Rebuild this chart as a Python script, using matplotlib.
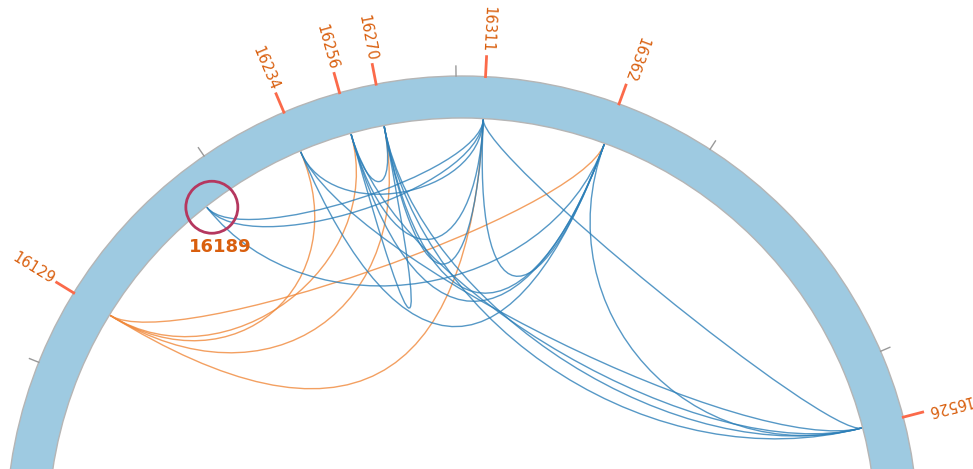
"""
Circular link view of the control region positions.
"""
import numpy as np
import matplotlib
matplotlib.use("Agg")
import matplotlib.pyplot as plt
from matplotlib.patches import Wedge, Circle, PathPatch
from matplotlib.path import Path

# labelled positions on the ring
label_pos = [16129, 16234, 16256, 16270, 16311, 16362, 16526]
highlight_pos = 16189
scale_pos = [16100, 16200, 16300, 16400, 16500]

# links (from, to, bend = radius of the control points as a fraction of the link radius)
orange_from = [16129, 16129, 16129, 16129, 16129]
orange_to = [16234, 16256, 16270, 16311, 16362]
orange_bend = [0.65, 0.67, 0.55, 0.34, 0.82]

blue_from = [16189, 16189, 16189, 16234, 16234, 16234, 16256, 16256, 16256,
             16256, 16256, 16270, 16270, 16270, 16270, 16311, 16311, 16362]
blue_to = [16311, 16311, 16362, 16311, 16362, 16526, 16270, 16270, 16311,
           16362, 16526, 16311, 16362, 16526, 16526, 16362, 16526, 16526]
blue_bend = [0.87, 0.83, 0.60, 0.81, 0.38, 0.72, 0.83, 0.41, 0.63,
             0.45, 0.61, 0.54, 0.47, 0.55, 0.49, 0.52, 0.91, 0.57]

R_OUT = 456
R_IN = 414
R_LINK = 413
DEG_PER_BP = 0.337
TOP_POS = 16300
TOP_OFFSET = -0.75


def angle(pos):
    return np.radians(TOP_OFFSET + DEG_PER_BP * (pos - TOP_POS))


def xy(pos, r):
    th = angle(pos)
    return r * np.sin(th), r * np.cos(th)


def link(ax, a, b, bend, color):
    verts = [xy(a, R_LINK), xy(a, R_LINK * bend), xy(b, R_LINK * bend), xy(b, R_LINK)]
    path = Path(verts, [Path.MOVETO, Path.CURVE4, Path.CURVE4, Path.CURVE4])
    ax.add_patch(PathPatch(path, facecolor="none", edgecolor=color,
                           lw=1.0, alpha=0.8, zorder=2))


def main():
    fig = plt.figure(figsize=(9.73, 4.69), dpi=100)
    ax = fig.add_axes([0, 0, 1, 1])
    ax.set_xlim(-462, 511)
    ax.set_ylim(63, 532)
    ax.set_aspect("equal")
    ax.axis("off")

    ax.add_patch(Wedge((0, 0), R_OUT, 0, 360, width=R_OUT - R_IN,
                       facecolor="#9ecae1", edgecolor="#b5b5b5", lw=1, zorder=1))

    for p in scale_pos:
        x0, y0 = xy(p, R_OUT)
        x1, y1 = xy(p, R_OUT + 10)
        ax.plot([x0, x1], [y0, y1], color="#999999", lw=1, zorder=1)

    for a, b, k in zip(orange_from, orange_to, orange_bend):
        link(ax, a, b, k, "#f0883a")
    for a, b, k in zip(blue_from, blue_to, blue_bend):
        link(ax, a, b, k, "#2c7fb8")

    for p in label_pos:
        x0, y0 = xy(p, R_OUT)
        x1, y1 = xy(p, R_OUT + 20)
        ax.plot([x0, x1], [y0, y1], color="#fb6a4a", lw=2, zorder=3)
        tx, ty = xy(p, R_OUT + 24)
        rot = 270 - np.degrees(angle(p))
        ax.text(tx, ty, str(p), rotation=rot, rotation_mode="anchor",
                ha="right", va="center", fontsize=10.5, color="#d95f0e")

    hx, hy = xy(highlight_pos, R_LINK)
    ax.add_patch(Circle((hx + 5, hy), 26, facecolor="none", edgecolor="#b5375f",
                        lw=2, zorder=4))
    ax.text(hx + 13, hy - 40, str(highlight_pos), ha="center", va="center",
            fontsize=13, fontweight="bold", color="#d95f0e")

    plt.savefig("out.png", dpi=100)


if __name__ == "__main__":
    main()
